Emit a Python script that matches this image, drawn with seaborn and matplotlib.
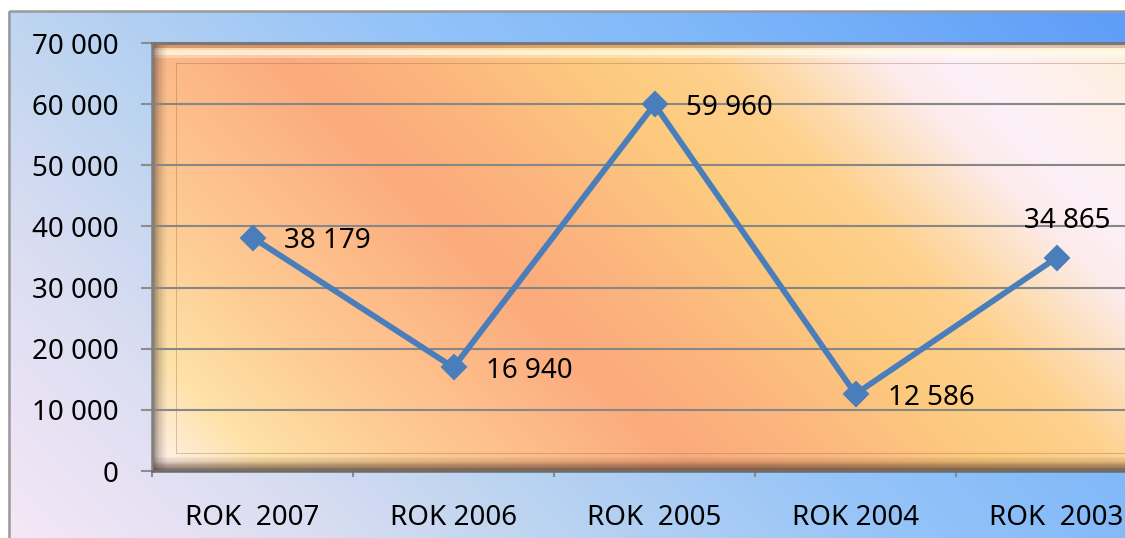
import numpy as np
import pandas as pd
import matplotlib
matplotlib.use("Agg")
import matplotlib.pyplot as plt
import seaborn as sns
from matplotlib.colors import LinearSegmentedColormap
from matplotlib.patches import Rectangle
from matplotlib.ticker import FuncFormatter

# ---------------- data ----------------
categories = ["ROK  2007", "ROK 2006", "ROK  2005", "ROK 2004", "ROK  2003"]
values = [38179, 16940, 59960, 12586, 34865]
value_labels = ["38 179", "16 940", "59 960", "12 586", "34 865"]
y_ticks = [0, 10000, 20000, 30000, 40000, 50000, 60000, 70000]

# ---------------- style ----------------
sns.set_style("white")
plt.rcParams['font.family'] = ['Noto Sans', 'DejaVu Sans']

W, H = 1125, 538
fig = plt.figure(figsize=(W / 100, H / 100), dpi=100)

# ---------- figure background (gradient) ----------
bg = fig.add_axes([0, 0, 1, 1], zorder=-10)
bg.axis('off')
X, Y = np.meshgrid(np.arange(W), np.arange(H))
Tbg = X + (H - Y)
bg_cmap = LinearSegmentedColormap.from_list('bg', [
    (0.00, '#F6E7F6'),
    (0.18, '#DCDEF2'),
    (0.32, '#BFD5F0'),
    (0.55, '#94C3F8'),
    (0.72, '#80B8F9'),
    (1.00, '#5D9CF8'),
])
bg.imshow(Tbg, cmap=bg_cmap, vmin=0, vmax=1663, extent=[0, W, H, 0],
          aspect='auto', interpolation='bilinear')
bg.add_patch(Rectangle((0, 0), W, 10.5, color='white', lw=0))
bg.add_patch(Rectangle((0, 0), 8.3, H, color='white', lw=0))
bg.plot([8.5, W], [11.2, 11.2], color='#9A9A9A', lw=1.8, solid_capstyle='butt')
bg.plot([8.8, 8.8], [11, H], color='#9A9A9A', lw=1.8, solid_capstyle='butt')
bg.set_xlim(0, W)
bg.set_ylim(H, 0)

# ---------- main axes ----------
L, R, T, B = 152, 1157, 43, 471
ax = fig.add_axes([L / W, 1 - B / H, (R - L) / W, (B - T) / H])
ax.patch.set_visible(False)

# plot area gradient
PX, PY = np.meshgrid(np.arange(L, R), np.arange(T, B))
Tp = PX - PY
pa_cmap_stops = [
    (-319, '#FFF3F0'),
    (-200, '#FEE2A8'),
    (-50, '#FDCC94'),
    (100, '#FDBA88'),
    (225, '#FBAA7C'),
    (380, '#FCB87E'),
    (530, '#FDCB7E'),
    (650, '#FDD08C'),
    (730, '#FDDDB4'),
    (820, '#FCEBEA'),
    (900, '#FCF0F8'),
    (980, '#FEF0EC'),
    (1114, '#FEEED6'),
]
tmin, tmax = -319, 1114
pa_cmap = LinearSegmentedColormap.from_list(
    'pa', [((t - tmin) / (tmax - tmin), c) for t, c in pa_cmap_stops])
ax.imshow(Tp, cmap=pa_cmap, vmin=tmin, vmax=tmax, extent=(0, 1, 0, 1),
          transform=ax.transAxes, origin='upper', aspect='auto',
          interpolation='bilinear', zorder=0)


def fx(x):
    return (x - L) / (R - L)


def fy(y):
    return (B - y) / (B - T)


def hrect(y0, y1, color, alpha, x0=L, x1=R):
    ax.add_patch(Rectangle((fx(x0), fy(y1)), fx(x1) - fx(x0), fy(y0) - fy(y1),
                           transform=ax.transAxes, color=color, alpha=alpha,
                           lw=0, zorder=1))


def vrect(x0, x1, color, alpha, y0=T, y1=B):
    ax.add_patch(Rectangle((fx(x0), fy(y1)), fx(x1) - fx(x0), fy(y0) - fy(y1),
                           transform=ax.transAxes, color=color, alpha=alpha,
                           lw=0, zorder=1))


# bevel: top
hrect(45, 48, '#8A5A3A', 0.30)
hrect(48, 50, '#FFF6C8', 0.55)
hrect(50, 55, '#FFFCE8', 0.80)
hrect(55, 58, '#FFFFFF', 0.35)
hrect(62.5, 64, '#8A6A5A', 0.35, x0=176)
# bevel: left
for i, a in enumerate([0.55, 0.45, 0.36, 0.28, 0.21, 0.15, 0.10, 0.06, 0.03]):
    vrect(L + 1 + 1.6 * i, L + 1 + 1.6 * (i + 1), '#4A3E38', a)
vrect(175.5, 177, '#8A6A5A', 0.35, y0=63, y1=453)
# bevel: bottom
hrect(452.5, 454, '#8A6A5A', 0.35, x0=176)
bot_alphas = [0.05, 0.08, 0.12, 0.17, 0.23, 0.30, 0.38, 0.46, 0.55, 0.62, 0.68, 0.72]
for i, a in enumerate(bot_alphas):
    hrect(457 + i * 1.2, 457 + (i + 1) * 1.2, '#4A3228', a)

# line with seaborn
df = pd.DataFrame({'rok': categories, 'value': values})
sns.lineplot(data=df, x='rok', y='value', sort=False, ax=ax,
             color='#4A7EBB', lw=4.2, marker='D', markersize=12.5,
             markeredgecolor='#4A7EBB', markeredgewidth=1.5, zorder=3)

ax.set_xlim(-0.5, len(categories) - 0.5)
ax.set_ylim(y_ticks[0], y_ticks[-1])
ax.set_xlabel('')
ax.set_ylabel('')

# ticks
ax.set_yticks(y_ticks)
ax.yaxis.set_major_formatter(FuncFormatter(lambda v, p: f"{int(v):,}".replace(',', ' ')))
ax.tick_params(axis='y', which='major', length=8, width=1.5, color='#8C8C8C',
               pad=16, labelsize=20, labelcolor='black', left=True, direction='out')
ax.set_xticks(np.arange(-0.5, len(categories), 1.0))
ax.set_xticklabels([''] * len(np.arange(-0.5, len(categories), 1.0)))
ax.set_xticks(np.arange(len(categories)), minor=True)
ax.set_xticklabels(categories, minor=True)
ax.tick_params(axis='x', which='major', length=4.5, width=1.5, color='#8C8C8C',
               bottom=True, direction='out')
ax.tick_params(axis='x', which='minor', length=0, pad=23.5, labelsize=20,
               labelcolor='black', bottom=True)

# grid
ax.set_axisbelow('line')
ax.yaxis.grid(True, color='#878787', lw=1.5)
ax.xaxis.grid(False)

# spines
ax.spines['left'].set_color('#7E7E7E')
ax.spines['left'].set_linewidth(1.8)
ax.spines['bottom'].set_color('#6A6A6A')
ax.spines['bottom'].set_linewidth(1.8)
ax.spines['top'].set_color('#777777')
ax.spines['top'].set_linewidth(2.2)
ax.spines['right'].set_visible(False)
for s in ax.spines.values():
    s.set_zorder(2.5)

# data labels
offsets = [(32, 0, 'left'), (32, 0, 'left'), (31, 0, 'left'), (32, 0, 'left'), (11, 40, 'center')]
for i, (v, lab) in enumerate(zip(values, value_labels)):
    dx, dy, ha = offsets[i]
    ax.annotate(lab, xy=(i, v), xytext=(dx, dy), textcoords='offset pixels',
                ha=ha, va='center_baseline', fontsize=20, color='black', zorder=4)

fig.savefig('out.png', dpi=100)
